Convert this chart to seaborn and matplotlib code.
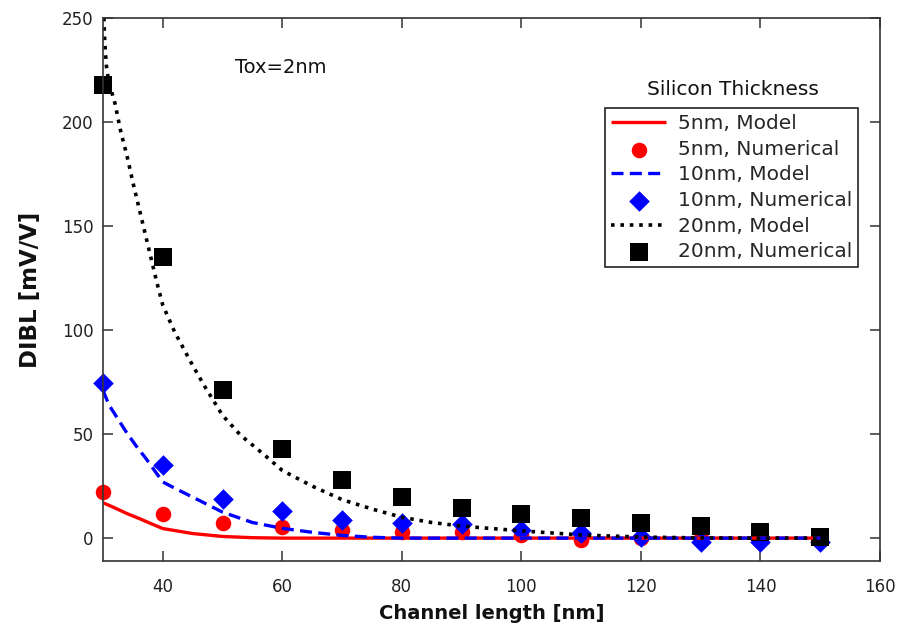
import numpy as np
import pandas as pd
import matplotlib
matplotlib.use("Agg")
import matplotlib.pyplot as plt
import seaborn as sns

# ---- data ----
x_num = [30, 40, 50, 60, 70, 80, 90, 100, 110, 120, 130, 140, 150]
num_5nm = [22, 11.5, 7.5, 5.5, 4, 3, 3, 1.5, -1, 0, 0, 0, 0]
num_10nm = [74.5, 35, 19, 13, 8.5, 7.5, 7, 4, 2.5, 0.5, -2, -2, -2]
num_20nm = [218, 135, 71, 43, 28, 20, 14.5, 11.5, 9.5, 7.5, 6, 3, 0.5]

x_m20 = [30, 30.3, 30.6, 31, 32, 33, 34, 35, 36, 37, 38, 39, 40, 42, 45, 47, 50,
         53, 57, 60, 65, 70, 75, 80, 85, 90, 95, 100, 110, 120, 130, 140, 150]
model_20nm = [262, 238, 226, 219, 209, 195, 184, 171, 159, 147, 135, 123, 112, 99,
              83, 73, 59, 49.5, 40, 32.5, 25, 18.5, 14, 10, 7.5, 5.8, 4.6, 3.5,
              1.5, 0.5, 0.1, 0, 0]

x_m10 = [30, 31, 32, 33, 34, 35, 36, 37, 38, 39, 40, 42, 45, 50, 55, 60, 65, 70,
         75, 80, 90, 100, 110, 120, 130, 140, 150]
model_10nm = [71, 64, 59.5, 55, 50.5, 46.5, 42.5, 39, 35, 31, 27, 24, 19.7, 12.5,
              7.5, 4.7, 2.8, 1.3, 0.4, 0, 0, 0, 0, 0, 0, 0, 0]

x_m5 = [30, 32, 34, 36, 38, 40, 45, 50, 55, 60, 70, 80, 90, 100, 110, 120, 130,
        140, 150]
model_5nm = [17, 14.5, 11.8, 9.5, 7, 4.6, 2.2, 0.8, 0.2, 0, 0, 0, 0, 0, 0, 0, 0,
             0, 0]

labels = ["5nm, Model", "5nm, Numerical", "10nm, Model", "10nm, Numerical",
          "20nm, Model", "20nm, Numerical"]

sns.set_style("white")
plt.rcParams['font.family'] = ['DejaVu Sans']

fig = plt.figure(figsize=(8.98, 6.33), dpi=100)
ax = fig.add_axes([103/898, 1-561/633, 777/898, 543/633])

RED, BLUE, BLACK = "#ff0000", "#0000ff", "#000000"

sns.lineplot(x=x_m5, y=model_5nm, ax=ax, color=RED, linewidth=2.4,
             sort=False, estimator=None, label=labels[0])
sns.scatterplot(x=x_num, y=num_5nm, ax=ax, color=RED, marker="o", s=125,
                linewidth=0, label=labels[1])
sns.lineplot(x=x_m10, y=model_10nm, ax=ax, color=BLUE, linewidth=2.4,
             sort=False, estimator=None, label=labels[2])
sns.scatterplot(x=x_num, y=num_10nm, ax=ax, color=BLUE, marker="D", s=110,
                linewidth=0, label=labels[3])
sns.lineplot(x=x_m20, y=model_20nm, ax=ax, color=BLACK, linewidth=2.6,
             sort=False, estimator=None, label=labels[4])
sns.scatterplot(x=x_num, y=num_20nm, ax=ax, color=BLACK, marker="s", s=170,
                linewidth=0, label=labels[5])

for coll in ax.collections:
    coll.set_clip_on(False)

lines = ax.get_lines()
lines[1].set_dashes([3.6, 1.9])
lines[2].set_dashes([1.0, 1.6])
for ln in lines:
    ln.set_solid_capstyle("butt")
    ln.set_dash_capstyle("butt")

ax.set_xlim(30, 160)
ax.set_ylim(-11, 250)
ax.set_xticks([40, 60, 80, 100, 120, 140, 160])
ax.set_yticks([0, 50, 100, 150, 200, 250])

for sp in ax.spines.values():
    sp.set_color("#333333")
    sp.set_linewidth(1.2)
ax.tick_params(direction="in", length=7, width=1.1, color="#333333",
               labelsize=12, labelcolor="#222222", top=True, right=True,
               bottom=True, left=True)
ax.tick_params(axis="x", pad=12)
ax.tick_params(axis="y", pad=7)

ax.set_xlabel("Channel length [nm]", fontsize=14, fontweight="bold",
              color="#111111", labelpad=6)
ax.set_ylabel("DIBL [mV/V]", fontsize=16.5, fontweight="bold",
              color="#111111", labelpad=14)

ax.text(52.1, 226.4, "Tox=2nm", fontsize=14, ha="left", va="center",
        color="#111111")

leg = ax.legend(loc="upper right", bbox_to_anchor=(0.972, 0.834),
                borderaxespad=0, fontsize=14.5, frameon=True, fancybox=False,
                edgecolor="#222222", framealpha=1, handlelength=2.7,
                handletextpad=0.6, labelspacing=0.33, borderpad=0.3,
                markerscale=1.0)
leg.get_frame().set_linewidth(1.2)
ax.text(0.811, 0.869, "Silicon Thickness", transform=ax.transAxes,
        fontsize=14.5, ha="center", va="center", color="#111111")

fig.savefig("out.png", dpi=100)
